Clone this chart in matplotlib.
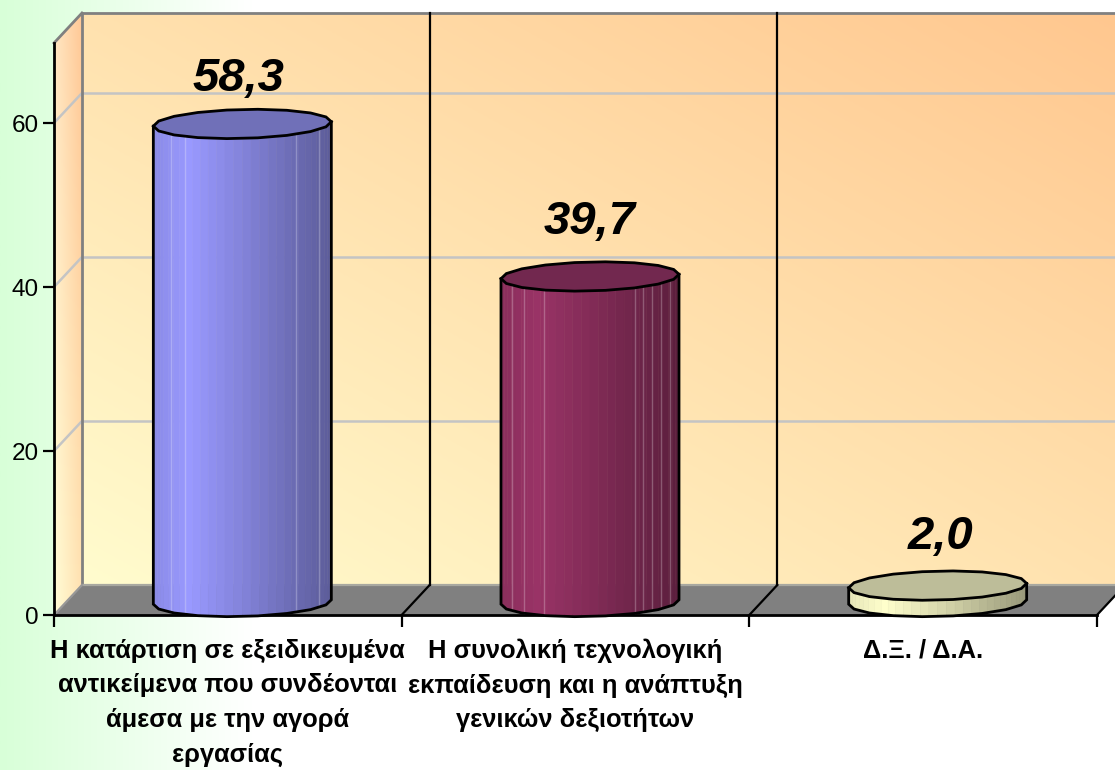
import numpy as np
import matplotlib
matplotlib.use("Agg")
import matplotlib.pyplot as plt
from matplotlib.patches import Polygon
from matplotlib.transforms import Affine2D, IdentityTransform
from matplotlib.colors import to_rgb

categories = ["Η κατάρτιση σε εξειδικευμένα\nαντικείμενα που συνδέονται\nάμεσα με την αγορά\nεργασίας",
              "Η συνολική τεχνολογική\nεκπαίδευση και η ανάπτυξη\nγενικών δεξιοτήτων",
              "Δ.Ξ. / Δ.Α."]
values = [58.3, 39.7, 2.0]
value_labels = ["58,3", "39,7", "2,0"]
y_ticks = [0, 20, 40, 60]

body_colors = ["#9999FF", "#993366", "#FFFFCC"]
cap_colors = ["#7070B8", "#72284F", "#BDBD99"]

plt.rcParams['font.family'] = ['Liberation Sans', 'DejaVu Sans']
W, H = 1115, 770
fig = plt.figure(figsize=(W / 100, H / 100), dpi=100)

# page background
bg = fig.add_axes([0, 0, 1, 1], zorder=-5)
u = np.linspace(0, 1, 600)
c0, c1 = np.array(to_rgb("#D8FFD8")), np.array([1, 1, 1])
t = np.clip(u / (250 / W), 0, 1)[None, :, None]
bg.imshow(c0 * (1 - t) + c1 * t, aspect='auto', extent=(0, 1, 0, 1))
bg.axis('off')

ax = fig.add_axes([54 / W, (H - 615) / H, 1043 / W, 572 / H])
y_max = 572 / 8.2
ax.patch.set_visible(False)


def shifted(dx, dy):
    return ax.transData + Affine2D().translate(dx, dy)


DX, DY = 28, 30
ax.set_xlim(-0.5, 2.5)
ax.set_ylim(0, y_max)
back = shifted(DX, DY)

# back wall
n = 200
uu, vv = np.meshgrid(np.linspace(0, 1, n), np.linspace(0, 1, n))
tt = ((uu + vv) / 2)[:, :, None]
wall_a, wall_b = np.array(to_rgb("#FFFCCE")), np.array(to_rgb("#FFC78F"))
ax.imshow(wall_a * (1 - tt) + wall_b * tt, origin='lower', aspect='auto',
          extent=(-0.5, 2.5, 0, y_max), transform=back, clip_on=False, zorder=0.1)

# left wall
fl = ax.transData.transform([(-0.5, 0), (-0.5, y_max)])
x0, y0 = fl[0]
y1 = fl[1][1] + DY
uu, vv = np.meshgrid(np.linspace(0, 1, 40), np.linspace(0, 1, 200))
lt = uu[:, :, None]
lv = vv[:, :, None]
front_col = np.array(to_rgb("#FFFDD6")) * (1 - lv) + np.array(to_rgb("#FFE6C2")) * lv
back_col = np.array(to_rgb("#FFE2B2")) * (1 - lv) + np.array(to_rgb("#FFC896")) * lv
im = ax.imshow(front_col * (1 - lt) + back_col * lt, origin='lower', aspect='auto',
               extent=(x0, x0 + DX, y0, y1), transform=IdentityTransform(),
               zorder=0.2)
clip = Polygon([(x0, y0), (x0 + DX, y0 + DY), (x0 + DX, fl[1][1] + DY), (x0, fl[1][1])],
               transform=IdentityTransform(), fc='none', ec='none', clip_on=False)
ax.add_patch(clip)
im.set_clip_box(fig.bbox)
im.set_clip_path(clip)
ax.set_xlim(-0.5, 2.5)
ax.set_ylim(0, y_max)

# floor
floor = Polygon([(x0, y0), (x0 + DX, y0 + DY), (x0 + 1043 + DX, y0 + DY), (x0 + 1043, y0)],
                transform=IdentityTransform(), fc="#808080", ec='none', zorder=0.3, clip_on=False)
ax.add_patch(floor)

# gridlines on the wall and on the left side
for yv in y_ticks[1:]:
    ax.plot([-0.5, 2.5], [yv, yv], color="#C4C4C4", lw=1.8, transform=back, clip_on=False, zorder=0.5)
    p = ax.transData.transform((-0.5, yv))
    ax.plot([p[0], p[0] + DX], [p[1], p[1] + DY], color="#C4C4C4", lw=1.8,
            transform=IdentityTransform(), clip_on=False, zorder=0.5)

# wall frame
ax.plot([-0.5, -0.5, 2.5], [0, y_max, y_max], color="#808080", lw=2, transform=back, clip_on=False, zorder=0.6)
ax.plot([-0.5, 2.5], [0, 0], color="#A8A8A0", lw=1.6, transform=back, clip_on=False, zorder=0.6)
pt = ax.transData.transform((-0.5, y_max))
ax.plot([pt[0], pt[0] + DX], [pt[1], pt[1] + DY], color="#808080", lw=2,
        transform=IdentityTransform(), clip_on=False, zorder=0.6)
ax.plot([x0, x0 + DX], [y0, y0 + DY], color="#989898", lw=1.6,
        transform=IdentityTransform(), clip_on=False, zorder=0.6)

# category separators
boundaries = [0.5, 1.5]
for b in boundaries:
    ax.plot([b, b], [0, y_max], color="black", lw=1.6, transform=back, clip_on=False, zorder=0.7)
for b in boundaries + [2.5]:
    p = ax.transData.transform((b, 0))
    ax.plot([p[0], p[0] + DX], [p[1], p[1] + DY], color="black", lw=1.6,
            transform=IdentityTransform(), clip_on=False, zorder=0.7)

# cylinders
a = 89.0 / (1043 / 3)
b_y = 14.5 / 8.2
s_y = 2.2 / 8.2
cyl = shifted(14.5, 13)
shade_x = [0.0, 0.2, 0.45, 0.7, 1.0]
shade_v = [0.90, 1.0, 0.88, 0.75, 0.60]
seams = [[0.10, 0.18, 0.80, 0.93], [0.06, 0.13, 0.24, 0.75, 0.80, 0.85, 0.90, 0.95], []]

for i, (val, col, cap) in enumerate(zip(values, body_colors, cap_colors)):
    base = np.array(to_rgb(col))
    th = np.linspace(np.pi, 2 * np.pi, 10)
    xs = i + a * np.cos(th)
    tilt = s_y * np.cos(th)
    arc = b_y * np.sin(th) + tilt
    # shaded strips between the polygon's facet corners
    xf = i + a * np.cos(np.linspace(np.pi, 2 * np.pi, 33))
    af = np.interp(xf, xs, arc)
    for k in range(len(xf) - 1):
        fr = ((xf[k] + xf[k + 1]) / 2 - (i - a)) / (2 * a)
        c = base * np.interp(fr, shade_x, shade_v)
        ax.add_patch(Polygon([(xf[k], af[k]), (xf[k + 1], af[k + 1]),
                              (xf[k + 1], val + af[k + 1]), (xf[k], val + af[k])],
                             closed=True, fc=c, ec=c, lw=0.4, transform=cyl,
                             clip_on=False, zorder=3))
    for fr in seams[i]:
        xq = i - a + 2 * a * fr
        top = val + np.interp(xq, xs, arc)
        bot = np.interp(xq, xs, arc)
        ax.plot([xq, xq], [bot, top], color="white", alpha=0.25, lw=1, transform=cyl,
                clip_on=False, zorder=3.1)
    outline = list(zip(xs, arc)) + [(xs[-1], val + arc[-1]), (xs[0], val + arc[0])]
    ax.add_patch(Polygon(outline, closed=True, fc='none', ec='black', lw=2, transform=cyl,
                         clip_on=False, zorder=3.2))
    full = np.linspace(0, 2 * np.pi, 19)
    capx = i + a * np.cos(full)
    capy = val + b_y * np.sin(full) + s_y * np.cos(full)
    ax.add_patch(Polygon(list(zip(capx, capy)), closed=True, fc=cap, ec='black', lw=2,
                         transform=cyl, clip_on=False, zorder=3.3))

# value labels
nudges = [(-4, 45), (0, 54), (3, 49)]
for i, (val, lab) in enumerate(zip(values, value_labels)):
    dx, dy = nudges[i]
    ax.text(i, val, lab, transform=shifted(14.5 + dx, 13 + dy), ha='center', va='center',
            fontsize=34, fontweight='bold', fontstyle='italic', color='black', zorder=5)

# axes
for s in ('top', 'right'):
    ax.spines[s].set_visible(False)
for s in ('left', 'bottom'):
    ax.spines[s].set_linewidth(2)
    ax.spines[s].set_zorder(2.5)
ax.set_yticks(y_ticks)
ax.tick_params(axis='y', length=8, width=1.6, labelsize=17.5, pad=3)
ax.set_xticks([0, 1, 2])
ax.set_xticklabels(categories, fontsize=18.4, fontweight='bold', linespacing=1.56)
ax.tick_params(axis='x', which='major', length=0, pad=17)
ax.set_xticks([-0.5, 0.5, 1.5, 2.5], minor=True)
ax.tick_params(axis='x', which='minor', length=8.5, width=1.6)

fig.savefig("out.png", dpi=100)
